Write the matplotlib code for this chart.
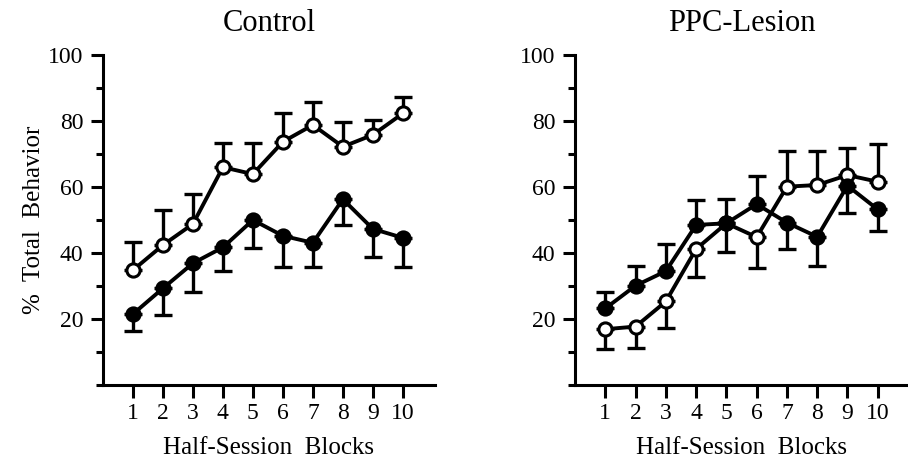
import matplotlib.pyplot as plt
from matplotlib.ticker import MultipleLocator

plt.rcParams['font.family'] = ['Liberation Serif', 'DejaVu Serif']

blocks = [1, 2, 3, 4, 5, 6, 7, 8, 9, 10]

# Control group
ctrl_open = [34.8, 42.4, 48.8, 66.0, 63.9, 73.7, 78.8, 72.2, 75.8, 82.3]
ctrl_open_hi = [43.4, 53.0, 57.9, 73.2, 73.2, 82.5, 85.9, 79.8, 80.3, 87.4]
ctrl_fill = [21.5, 29.3, 36.9, 41.7, 50.0, 45.2, 43.1, 56.3, 47.3, 44.6]
ctrl_fill_lo = [16.4, 21.2, 28.1, 34.5, 41.4, 35.9, 35.9, 48.5, 38.7, 35.9]

# PPC-lesion group
ppc_open = [16.9, 17.7, 25.3, 41.2, 49.0, 44.8, 60.1, 60.6, 63.6, 61.6]
ppc_open_lo = [10.9, 11.1, 17.4, 32.6, 40.2, 35.5, None, None, None, None]
ppc_open_hi = [None, None, None, None, None, None, 70.9, 70.9, 71.7, 73.0]
ppc_fill = [23.2, 30.1, 34.5, 48.5, 49.0, 54.8, 49.2, 44.9, 60.4, 53.2]
ppc_fill_hi = [28.3, 36.2, 42.7, 56.1, 56.3, 63.4, None, None, None, None]
ppc_fill_lo = [None, None, None, None, None, None, 41.1, 36.2, 52.2, 46.7]


def err(vals, lo=None, hi=None):
    down, up = [], []
    for i, v in enumerate(vals):
        down.append(v - lo[i] if lo and lo[i] is not None else 0)
        up.append(hi[i] - v if hi and hi[i] is not None else 0)
    return [down, up]


def series(ax, vals, yerr, filled):
    ax.errorbar(blocks, vals, yerr=yerr, fmt='none', ecolor='black',
                elinewidth=2.4, capsize=6.5, capthick=2.4, zorder=2)
    ax.plot(blocks, vals, color='black', lw=2.8, marker='o', ms=9.5,
            mew=2.2, mfc='black' if filled else 'white', mec='black',
            zorder=3, clip_on=False)


def style(ax, title, xmax):
    ax.set_xlim(0, xmax)
    ax.set_ylim(0, 100)
    ax.spines['top'].set_visible(False)
    ax.spines['right'].set_visible(False)
    ax.spines['left'].set_linewidth(2.2)
    ax.spines['bottom'].set_linewidth(2.2)
    ax.set_xticks(blocks)
    ax.yaxis.set_major_locator(MultipleLocator(20))
    ax.yaxis.set_minor_locator(MultipleLocator(10))
    ax.set_yticks([20, 40, 60, 80, 100])
    ax.tick_params(axis='both', which='major', direction='out', length=9,
                   width=2.2, labelsize=17)
    ax.tick_params(axis='y', which='minor', direction='out', length=5,
                   width=2.2)
    ax.tick_params(axis='x', pad=4)
    ax.tick_params(axis='y', pad=5)
    ax.set_title(title, fontsize=22, pad=17)
    ax.set_xlabel('Half-Session  Blocks', fontsize=18, labelpad=9)


fig = plt.figure(figsize=(9.08, 4.63), dpi=100)
ax1 = fig.add_axes([0.1134, 0.1685, 0.3656, 0.7127])
ax2 = fig.add_axes([0.6333, 0.1685, 0.3667, 0.7127])

series(ax1, ctrl_open, err(ctrl_open, hi=ctrl_open_hi), False)
series(ax1, ctrl_fill, err(ctrl_fill, lo=ctrl_fill_lo), True)
style(ax1, 'Control', 11.07)
ax1.set_ylabel('%  Total  Behavior', fontsize=18, labelpad=2)

series(ax2, ppc_open, err(ppc_open, lo=ppc_open_lo, hi=ppc_open_hi), False)
series(ax2, ppc_fill, err(ppc_fill, lo=ppc_fill_lo, hi=ppc_fill_hi), True)
style(ax2, 'PPC-Lesion', 11.0)

fig.savefig('out.png', dpi=100)
